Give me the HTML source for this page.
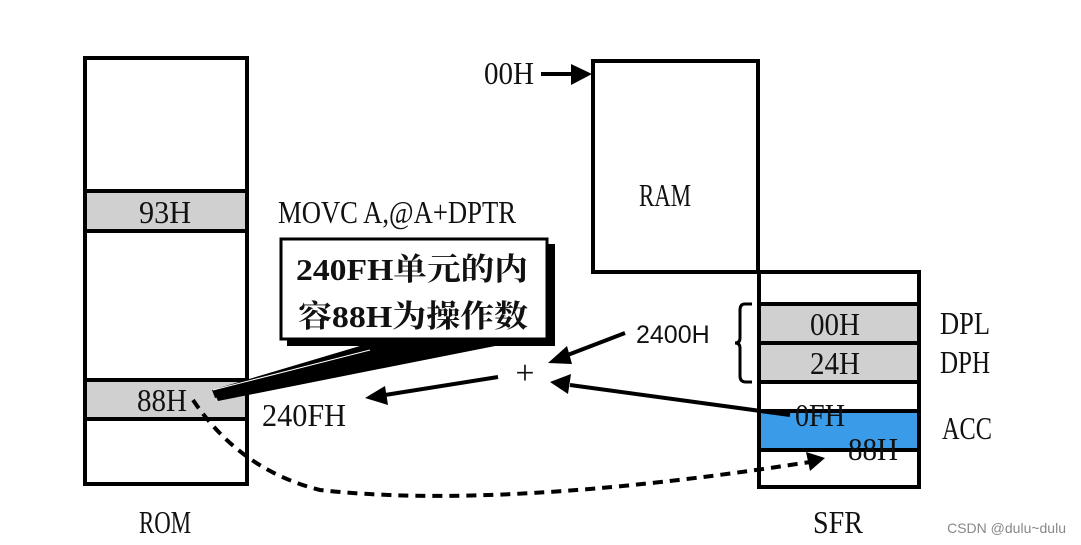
<!DOCTYPE html>
<html><head><meta charset="utf-8"><style>
html,body{margin:0;padding:0;background:#fff}
svg{display:block}
text{font-family:"Liberation Serif","Noto Serif CJK SC",serif;fill:#111}
</style></head><body>
<svg width="1081" height="545" viewBox="0 0 1081 545" xmlns="http://www.w3.org/2000/svg">
<!-- ROM -->
<rect x="86" y="193" width="160" height="38" fill="#d0d0d0"/>
<rect x="86" y="382" width="160" height="37" fill="#d0d0d0"/>
<rect x="85" y="58" width="162" height="426" fill="none" stroke="#000" stroke-width="4"/>
<line x1="85" y1="191" x2="249" y2="191" stroke="#000" stroke-width="4"/>
<line x1="85" y1="231" x2="249" y2="231" stroke="#000" stroke-width="4"/>
<line x1="85" y1="380" x2="247" y2="380" stroke="#000" stroke-width="4"/>
<line x1="85" y1="419" x2="247" y2="419" stroke="#000" stroke-width="4"/>
<text x="165" y="223" font-size="32" text-anchor="middle" textLength="52" lengthAdjust="spacingAndGlyphs">93H</text>
<text x="162" y="411" font-size="32" text-anchor="middle" textLength="50" lengthAdjust="spacingAndGlyphs">88H</text>
<text x="165" y="533" font-size="32" text-anchor="middle" textLength="52" lengthAdjust="spacingAndGlyphs">ROM</text>
<text x="278" y="223" font-size="32" textLength="238" lengthAdjust="spacingAndGlyphs">MOVC A,@A+DPTR</text>
<!-- callout -->
<rect x="287" y="244" width="268" height="102" fill="#000"/>
<rect x="281" y="239" width="266" height="100" fill="#fff" stroke="#000" stroke-width="3"/>
<text x="296" y="280" font-size="31" font-weight="bold" textLength="232" lengthAdjust="spacingAndGlyphs">240FH单元的内</text>
<text x="298" y="327" font-size="31" font-weight="bold" textLength="230" lengthAdjust="spacingAndGlyphs">容88H为操作数</text>
<polygon points="380,340 460,340 215,398 212,390" fill="#000"/>
<polygon points="440,342 515,342 218,401 215,394" fill="#000"/>
<line x1="213" y1="390" x2="370" y2="350" stroke="#fff" stroke-width="1"/>
<!-- RAM -->
<rect x="593" y="61" width="165" height="211" fill="none" stroke="#000" stroke-width="4"/>
<text x="665" y="206" font-size="32" text-anchor="middle" textLength="52" lengthAdjust="spacingAndGlyphs">RAM</text>
<text x="484" y="84" font-size="32" textLength="50" lengthAdjust="spacingAndGlyphs">00H</text>
<line x1="541" y1="74" x2="575" y2="74" stroke="#000" stroke-width="4"/>
<polygon points="571,64 592,74 571,85" fill="#000"/>
<!-- SFR -->
<rect x="760" y="305" width="158" height="38" fill="#d0d0d0"/>
<rect x="760" y="345" width="158" height="36" fill="#d0d0d0"/>
<rect x="760" y="412" width="158" height="36" fill="#3a9be8"/>
<rect x="759" y="272" width="160" height="215" fill="none" stroke="#000" stroke-width="4"/>
<line x1="757" y1="304" x2="921" y2="304" stroke="#000" stroke-width="4"/>
<line x1="757" y1="343" x2="921" y2="343" stroke="#000" stroke-width="4"/>
<line x1="757" y1="382" x2="921" y2="382" stroke="#000" stroke-width="4"/>
<line x1="757" y1="411" x2="921" y2="411" stroke="#000" stroke-width="4"/>
<line x1="757" y1="450" x2="921" y2="450" stroke="#000" stroke-width="4"/>
<text x="835" y="335" font-size="32" text-anchor="middle" textLength="50" lengthAdjust="spacingAndGlyphs">00H</text>
<text x="835" y="374" font-size="32" text-anchor="middle" textLength="50" lengthAdjust="spacingAndGlyphs">24H</text>
<text x="795" y="426" font-size="32" textLength="50" lengthAdjust="spacingAndGlyphs">0FH</text>
<text x="848" y="460" font-size="32" textLength="50" lengthAdjust="spacingAndGlyphs">88H</text>
<text x="940" y="334" font-size="32" textLength="50" lengthAdjust="spacingAndGlyphs">DPL</text>
<text x="940" y="373" font-size="32" textLength="50" lengthAdjust="spacingAndGlyphs">DPH</text>
<text x="942" y="439" font-size="32" textLength="50" lengthAdjust="spacingAndGlyphs">ACC</text>
<text x="838" y="533" font-size="32" text-anchor="middle" textLength="50" lengthAdjust="spacingAndGlyphs">SFR</text>
<path d="M752,304 H745 Q740,304 740,310 V338 Q740,343 735,343 Q740,343 740,348 V376 Q740,382 746,382 H752" fill="none" stroke="#000" stroke-width="3"/>
<!-- adder -->
<text x="636" y="343" font-size="25" style="font-family:'Liberation Sans',sans-serif">2400H</text>
<text x="525" y="384" font-size="34" text-anchor="middle" fill="#444">+</text>
<line x1="625" y1="333" x2="565" y2="356" stroke="#000" stroke-width="4"/>
<polygon points="548,363 567,346 572,364" fill="#000"/>
<line x1="790" y1="415" x2="570" y2="385" stroke="#000" stroke-width="4"/>
<polygon points="550,382 571,374 568,394" fill="#000"/>
<line x1="498" y1="377" x2="385" y2="395" stroke="#000" stroke-width="4"/>
<polygon points="365,398 385,386 388,405" fill="#000"/>
<text x="262" y="426" font-size="32" textLength="84" lengthAdjust="spacingAndGlyphs">240FH</text>
<!-- dashed -->
<path d="M193,400 Q240,470 320,490 Q500,510 810,462" fill="none" stroke="#000" stroke-width="4" stroke-dasharray="10,7"/>
<polygon points="825,458 806,452 810,471" fill="#000"/>
<text x="1066" y="533" font-size="14" text-anchor="end" style="font-family:'Liberation Sans',sans-serif;fill:#888">CSDN @dulu~dulu</text>
</svg>
</body></html>
